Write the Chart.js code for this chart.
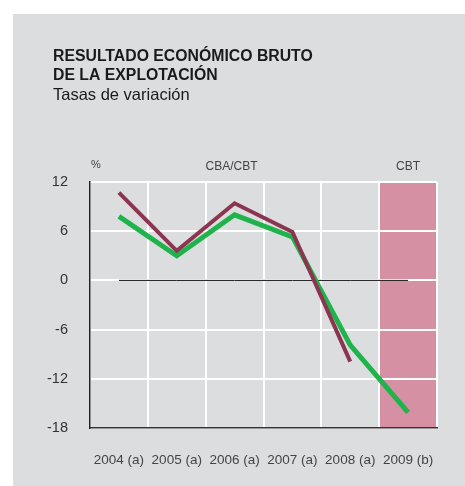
<!DOCTYPE html>
<html>
<head>
<meta charset="utf-8">
<script src="https://cdn.jsdelivr.net/npm/chart.js@4/dist/chart.umd.min.js"></script>
<style>
  html, body { margin: 0; padding: 0; background: #fff; }
  #panel {
    position: absolute; left: 13px; top: 14px;
    width: 452px; height: 472px;
    background: #dcdddf;
  }
  #chart { display: block; }
</style>
</head>
<body>
<div id="panel"><canvas id="chart" width="452" height="472"></canvas></div>
<script>
// data
const categories = ['2004 (a)', '2005 (a)', '2006 (a)', '2007 (a)', '2008 (a)', '2009 (b)'];
const cbaValues = [10.7, 3.6, 9.4, 5.9, -9.9, null];
const cbtValues = [7.8, 3.0, 8.0, 5.3, -7.9, -16.1];
const zeroLine = [0, 0, 0, 0, 0, 0];
const yTicks = [-18, -12, -6, 0, 6, 12];
const shadedCategory = '2009 (b)';
const titleLines = ['RESULTADO ECONÓMICO BRUTO', 'DE LA EXPLOTACIÓN'];
const subtitleLine = 'Tasas de variación';
const unitLabel = '%';
const periodLabels = ['CBA/CBT', 'CBT'];

const FONT = '"Liberation Sans", Arial, Helvetica, sans-serif';

// pink band behind the grid for the forecast year
const bandPlugin = {
    id: 'band',
    beforeDraw(chart) {
        const x = chart.scales.x, y = chart.scales.y;
        const idx = categories.indexOf(shadedCategory);
        const half = (x.getPixelForValue(1) - x.getPixelForValue(0)) / 2;
        const cx = x.getPixelForValue(idx);
        const ctx = chart.ctx;
        ctx.save();
        ctx.fillStyle = '#d591a3';
        ctx.fillRect(cx - half, y.getPixelForValue(yTicks[yTicks.length - 1]),
            half * 2, y.getPixelForValue(yTicks[0]) - y.getPixelForValue(yTicks[yTicks.length - 1]));
        ctx.restore();
    }
};

// titles and small labels above the plot
const textPlugin = {
    id: 'texts',
    afterDraw(chart) {
        const ctx = chart.ctx;
        const area = chart.chartArea;
        const x = chart.scales.x;
        const idx = categories.indexOf(shadedCategory);
        const half = (x.getPixelForValue(1) - x.getPixelForValue(0)) / 2;
        const bandLeft = x.getPixelForValue(idx) - half;
        ctx.save();
        ctx.fillStyle = '#1a1a1a';
        ctx.textBaseline = 'middle';
        ctx.textAlign = 'left';
        ctx.font = 'bold 15.8px ' + FONT;
        titleLines.forEach((t, i) => ctx.fillText(t, 40, 43 + i * 19));
        ctx.font = '16.5px ' + FONT;
        ctx.fillText(subtitleLine, 40, 81);

        ctx.fillStyle = '#444';
        ctx.font = '11px ' + FONT;
        ctx.fillText(unitLabel, area.left + 1, 151);
        ctx.font = '12px ' + FONT;
        ctx.textAlign = 'center';
        ctx.fillText(periodLabels[0], (area.left + bandLeft) / 2 - 3, 153);
        ctx.fillText(periodLabels[1], x.getPixelForValue(idx), 153);
        ctx.restore();
    }
};

new Chart(document.getElementById('chart'), {
    type: 'line',
    data: {
        labels: categories,
        datasets: [
            {
                label: 'CBA',
                data: cbaValues,
                borderColor: '#8c3550',
                borderWidth: 4,
                pointRadius: 0,
                tension: 0
            },
            {
                label: 'CBT',
                data: cbtValues,
                borderColor: '#1fb34b',
                borderWidth: 5,
                pointRadius: 0,
                tension: 0
            },
            {
                label: 'cero',
                data: zeroLine,
                borderColor: '#111',
                borderWidth: 1,
                pointRadius: 0
            }
        ]
    },
    options: {
        responsive: false,
        animation: false,
        layout: { padding: { top: 168, right: 28, left: 0, bottom: 0 } },
        plugins: {
            legend: { display: false },
            title: { display: false },
            tooltip: { enabled: false }
        },
        scales: {
            x: {
                offset: true,
                grid: { offset: true, color: '#ffffff', lineWidth: 2, drawTicks: false },
                border: { display: true, color: '#333', width: 1.5 },
                ticks: {
                    padding: 24,
                    color: '#444',
                    font: { family: FONT, size: 13.5 },
                    maxRotation: 0,
                    autoSkip: false
                },
                afterFit(scale) { scale.height = 58; }
            },
            y: {
                min: yTicks[0],
                max: yTicks[yTicks.length - 1],
                afterBuildTicks(scale) { scale.ticks = yTicks.map(v => ({ value: v })); },
                grid: { color: '#ffffff', lineWidth: 2, drawTicks: false },
                border: { display: true, color: '#222', width: 1.5 },
                ticks: {
                    padding: 22,
                    color: '#333',
                    font: { family: FONT, size: 14.5 }
                },
                afterFit(scale) { scale.width = 77; }
            }
        }
    },
    plugins: [bandPlugin, textPlugin]
});
</script>
</body>
</html>
